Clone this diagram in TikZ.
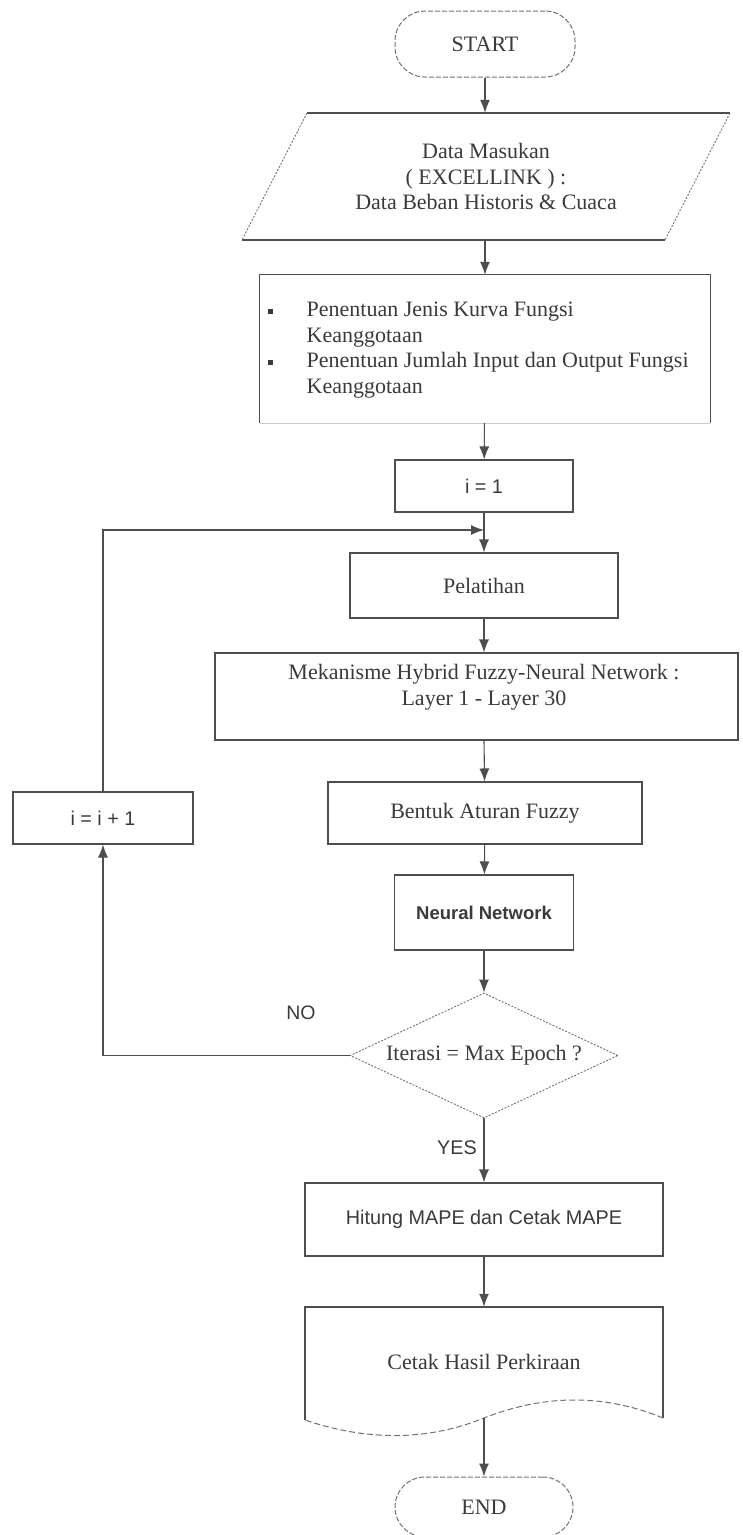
\documentclass[tikz,border=0pt]{standalone}
\usepackage{fontspec}
\setmainfont{Liberation Serif}
\setsansfont{Liberation Sans}
\usetikzlibrary{arrows.meta,shapes.geometric}
\definecolor{ink}{HTML}{3A3A3A}
\definecolor{edge}{HTML}{4E4E4E}
\begin{document}
\begin{tikzpicture}[x=1pt,y=-1pt,
  every node/.style={text=ink, inner sep=0pt},
  serif/.style={font=\fontsize{22}{25.5}\selectfont\rmfamily},
  sans/.style={font=\fontsize{19.8}{23}\selectfont\sffamily},
  stepbox/.style={draw=edge, line width=1.1pt, rectangle},
  terminal/.style={draw=edge!80, line width=1pt, dash pattern=on 5pt off 2pt,
    rectangle, rounded corners=30pt, serif},
  decision/.style={draw=edge!80, line width=0.9pt, dash pattern=on 2pt off 1.5pt,
    diamond, aspect=2.14, serif},
  flow/.style={draw=edge, line width=1.1pt, -{Latex[length=13pt,width=10pt]}},
  plain/.style={draw=edge, line width=1.1pt}]

\useasboundingbox (0,0) rectangle (743,1535);

% start terminal
\node[terminal, minimum width=180pt, minimum height=66pt] (start) at (485,44) {START};

% input parallelogram
\draw[plain] (307,113) -- (730,113);
\draw[plain] (242,240) -- (665,240);
\draw[edge!80, line width=0.9pt, dash pattern=on 2pt off 1.5pt] (307,113) -- (242,240);
\draw[edge!80, line width=0.9pt, dash pattern=on 2pt off 1.5pt] (730,113) -- (665,240);
\node[serif, minimum width=360pt, minimum height=127pt, align=center] (inp) at (486,176.5)
  {Data Masukan\\( EXCELLINK ) :\\Data Beban Historis \& Cuaca};

% membership function setup box (its lower edge is faint)
\node[minimum width=450pt, minimum height=148pt] (bul) at (485,349) {};
\draw[plain] (bul.south west) -- (bul.north west) -- (bul.north east) -- (bul.south east);
\draw[edge!30, line width=0.8pt] (bul.south west) -- (bul.south east);
\node[serif, anchor=west, align=left] (bultxt) at (268,350) {%
  \begin{tabular}{@{}l@{\hspace{34pt}}l@{}}
  \rule[3pt]{4.5pt}{4.5pt} & Penentuan Jenis Kurva Fungsi\\
   & Keanggotaan\\
  \rule[3pt]{4.5pt}{4.5pt} & Penentuan Jumlah Input dan Output Fungsi\\
   & Keanggotaan
  \end{tabular}};

% counter init
\node[stepbox, sans, minimum width=178pt, minimum height=52pt] (i1) at (484,486) {i = 1};
\coordinate (jn) at (484,530);

% training
\node[stepbox, serif, minimum width=268pt, minimum height=65pt] (pel) at (484,585.5) {Pelatihan};

% hybrid mechanism
\node[stepbox, minimum width=523pt, minimum height=87pt] (hyb) at (476.5,696.5) {};
\node[serif, align=center] (hybtxt) at (484,687)
  {Mekanisme Hybrid Fuzzy-Neural Network :\\Layer 1 - Layer 30};

% fuzzy rules
\node[stepbox, serif, minimum width=314pt, minimum height=62pt] (ben) at (485,813) {Bentuk Aturan Fuzzy};

% neural network
\node[stepbox, sans, font=\fontsize{18.5}{22}\selectfont\sffamily\bfseries,
  minimum width=179pt, minimum height=75pt] (nn) at (484,912.5) {Neural Network};

% decision
\node[decision, minimum width=268pt, minimum height=125pt] (dec) at (484,1055.5) {Iterasi = Max Epoch ?};

% increment
\node[stepbox, sans, minimum width=180pt, minimum height=52pt] (inc) at (103,818) {i = i + 1};

% MAPE
\node[stepbox, sans, minimum width=358pt, minimum height=73pt] (hit) at (484,1219.5) {Hitung MAPE dan Cetak MAPE};

% output document
\coordinate (docb) at (484,1418);
\draw[plain] (305,1420) -- (305,1307) -- (663,1307) -- (663,1418);
\draw[edge!80, line width=1pt, dash pattern=on 6pt off 3pt]
  (663,1418) .. controls (600,1392) and (540,1396) .. (docb)
  .. controls (430,1440) and (370,1442) .. (305,1420);
\node[serif, minimum width=358pt, minimum height=110pt] (doc) at (484,1362) {Cetak Hasil Perkiraan};

% end terminal
\node[terminal, minimum width=178pt, minimum height=60pt] (end) at (484,1507) {END};

% labels
\node[sans, font=\fontsize{19.5}{22}\selectfont\sffamily] (no) at (301,1013) {NO};
\node[sans] (yes) at (457,1148) {YES};

% connectors
\draw[flow] (start) -- (start |- inp.north);
\draw[flow] (start |- inp.south) -- (bul);
\draw[flow] (bul) -- (i1);
\draw[flow] (i1) -- (pel);
\draw[flow] (inc.north) |- (jn);
\draw[flow] (pel) -- (pel.south |- hyb.north);
\draw[flow] (pel.south |- hyb.south) -- (ben);
\draw[flow] (ben) -- (nn);
\draw[flow] (nn) -- (dec);
\draw[flow] (dec.west) -| (inc.south);
\draw[flow] (dec) -- (hit);
\draw[flow] (hit) -- (hit.south |- doc.north);
\draw[flow] (docb) -- (end);
\end{tikzpicture}
\end{document}
